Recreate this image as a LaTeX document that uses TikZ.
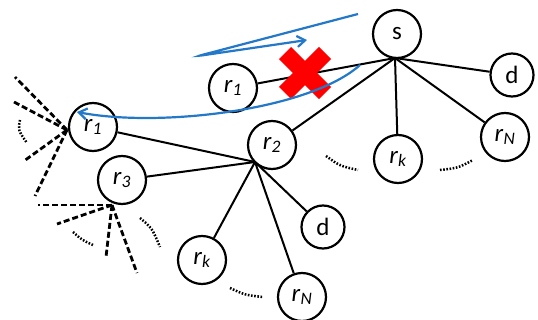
\documentclass[tikz,border=0pt]{standalone}
\usepackage{fontspec}
\setmainfont{Carlito}
\usetikzlibrary{arrows.meta}
\definecolor{arrowblue}{RGB}{35,120,200}
\definecolor{crossred}{RGB}{255,0,0}
\newcommand\rlab[1]{\textit{r}\textsubscript{\itshape #1}}
\begin{document}
\begin{tikzpicture}[x=1pt,y=-1pt,
  nd/.style={circle,draw,line width=2.2pt,fill=white,minimum size=48pt,inner sep=0pt,font=\fontsize{25}{27}\selectfont},
  ndsmall/.style={nd,minimum size=43pt},
  link/.style={line width=2pt},
  dsh/.style={line width=2.8pt,dash pattern=on 6pt off 3pt},
  dots/.style={line width=2.5pt,dash pattern=on 1.6pt off 1.6pt},
  barrow/.style={arrowblue,line width=2.2pt,-{Straight Barb[length=8pt,width=11pt,line width=2.2pt]}}]
\useasboundingbox (0,0) rectangle (538,320);

% nodes
\node[nd] (s) at (397,34) {s};
\node[ndsmall] (dR) at (512,75) {d};
\node[nd] (rNR) at (505,137) {\rlab{N}};
\node[nd] (rkR) at (398,159) {\rlab{k}};
\node[nd] (r1m) at (233,88) {\rlab{1}};
\node[nd] (r2) at (272,145) {\rlab{2}};
\node[nd] (r1L) at (93,127) {\rlab{1}};
\node[nd] (r3) at (122,180) {\rlab{3}};
\node[ndsmall] (dL) at (323,227) {d};
\node[nd] (rkL) at (202,260) {\rlab{k}};
\node[nd] (rNL) at (302,297) {\rlab{N}};

% hubs
\coordinate (sh) at (395,58);
\coordinate (h2) at (255,162);
\coordinate (h1) at (67,130);
\coordinate (h3) at (112,205);

% links from s
\foreach \t in {r1m,r2,rkR,rNR,dR} \draw[link] (sh) -- (\t);
% links from r2
\foreach \t in {r1L,r3,rkL,rNL,dL} \draw[link] (h2) -- (\t);

% dashed links
\coordinate (e1) at (15,77);
\coordinate (e2) at (14,102);
\coordinate (e3) at (24,161);
\coordinate (e4) at (35,196);
\foreach \e in {e1,e2,e3,e4} \draw[dsh] (h1) -- (\e);
\coordinate (f1) at (38,205);
\coordinate (f2) at (57,224);
\coordinate (f3) at (106,257);
\coordinate (f4) at (137,273);
\foreach \e in {f1,f2,f3,f4} \draw[dsh] (h3) -- (\e);

% dotted arcs
\draw[dots] (20,120) .. controls (18,130) .. (27,143);
\draw[dots] (73,232) .. controls (82,240) .. (93,245);
\draw[dots] (140,218) .. controls (152,228) .. (160,247);
\draw[dots] (230,288) .. controls (245,295) .. (263,297);
\draw[dots] (326,156) .. controls (340,166) .. (358,170);
\draw[dots] (440,170) .. controls (458,168) .. (473,160);

% red cross
\draw[crossred,line width=17pt] (285,53) -- (325,93);
\draw[crossred,line width=17pt] (325,53) -- (285,93);

% blue arrows
\draw[barrow,rounded corners=3pt] (358,14) -- (198,56) -- (307,40);
\draw[barrow] (360,65) .. controls (310,110) and (160,128) .. (77,112);
\end{tikzpicture}
\end{document}
